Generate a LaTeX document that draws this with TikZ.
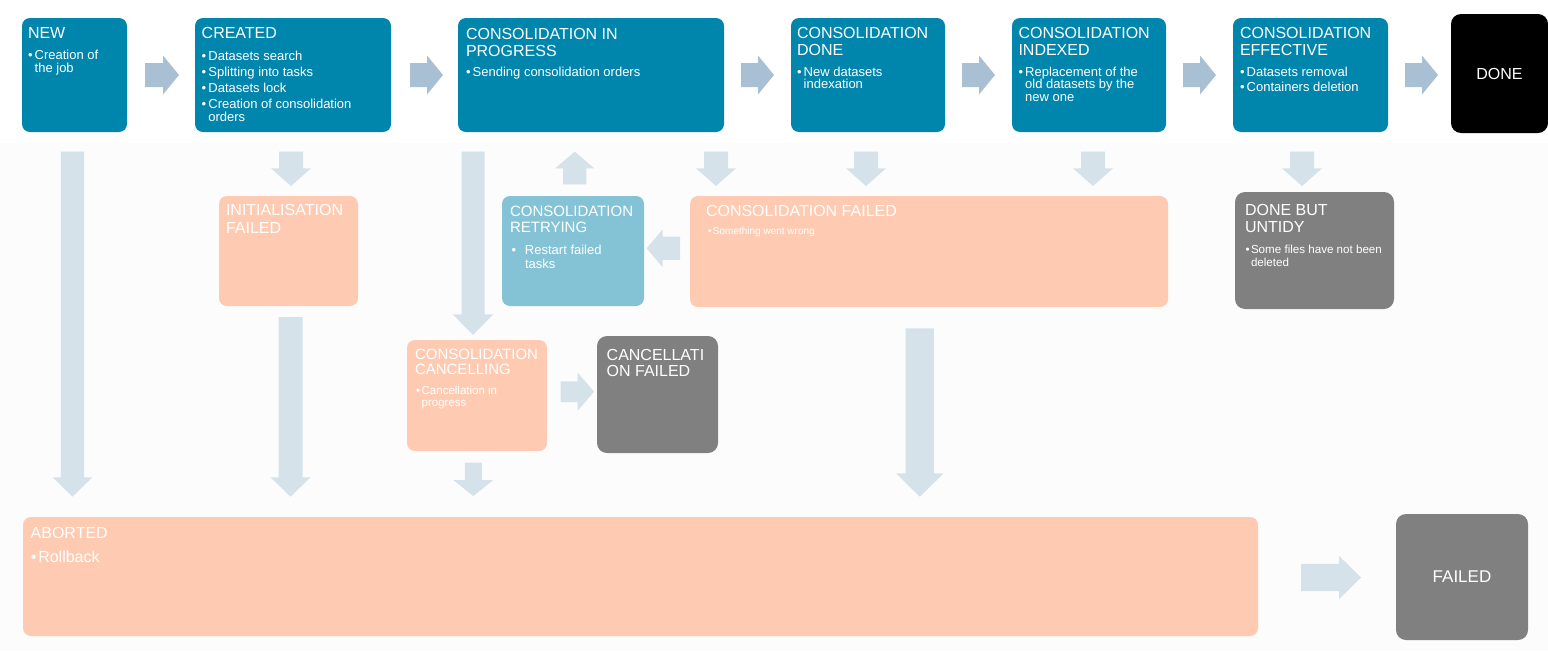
\documentclass[tikz,border=0pt]{standalone}
\usepackage{fontspec}
\setmainfont{Liberation Sans}
\usetikzlibrary{calc}
\definecolor{cblue}{HTML}{0086AD}
\definecolor{csalmon}{HTML}{FECBB2}
\definecolor{clblue}{HTML}{84C3D6}
\definecolor{cgray}{HTML}{808080}
\definecolor{carrowd}{HTML}{A9BFD3}
\definecolor{carrowl}{HTML}{D5E2EA}
\definecolor{cbg}{HTML}{FCFCFC}
% box content: width, height, left pad, first baseline, content
\newcommand\bx[5]{\begin{minipage}[t][#2pt][t]{#1pt}\leftskip=#3pt\rightskip=0pt plus 1fil\parfillskip=0pt plus 1fil\leavevmode\rule{0pt}{#4pt}\ignorespaces#5\end{minipage}}
% title: size, skip, text
\newcommand\ttl[3]{{\fontsize{#1pt}{#2pt}\selectfont#3\par}}
% bullet: size, skip, bullet offset, hang, text
\newcommand\bul[5]{{\fontsize{#1pt}{#2pt}\selectfont\hangindent=#4pt\hangafter=1\noindent\makebox[#4pt][l]{\hspace{#3pt}\textbullet}#5\par}}
\tikzset{
  stbox/.style={anchor=north west, inner sep=0pt, outer sep=0pt, text=white, rounded corners=8pt},
  bluebox/.style={stbox, fill=cblue},
  salbox/.style={stbox, fill=csalmon},
  lbbox/.style={stbox, fill=clblue},
  graybox/.style={stbox, fill=cgray, rounded corners=10pt},
  blkbox/.style={stbox, fill=black, rounded corners=10pt},
  rblk/.style n args={3}{to path={let \p1=(\tikztostart), \p2=(\tikztotarget) in
    (\x1,\y1+#1/2) -- (\x2-#3,\y1+#1/2) -- (\x2-#3,\y1+#2/2) -- (\x2,\y1) -- (\x2-#3,\y1-#2/2) -- (\x2-#3,\y1-#1/2) -- (\x1,\y1-#1/2) -- cycle}},
  lblk/.style n args={3}{to path={let \p1=(\tikztostart), \p2=(\tikztotarget) in
    (\x1,\y1+#1/2) -- (\x2+#3,\y1+#1/2) -- (\x2+#3,\y1+#2/2) -- (\x2,\y1) -- (\x2+#3,\y1-#2/2) -- (\x2+#3,\y1-#1/2) -- (\x1,\y1-#1/2) -- cycle}},
  dblk/.style n args={3}{to path={let \p1=(\tikztostart), \p2=(\tikztotarget) in
    (\x1-#1/2,\y1) -- (\x1-#1/2,\y2+#3) -- (\x1-#2/2,\y2+#3) -- (\x1,\y2) -- (\x1+#2/2,\y2+#3) -- (\x1+#1/2,\y2+#3) -- (\x1+#1/2,\y1) -- cycle}},
  ublk/.style n args={3}{to path={let \p1=(\tikztostart), \p2=(\tikztotarget) in
    (\x1-#1/2,\y1) -- (\x1-#1/2,\y2-#3) -- (\x1-#2/2,\y2-#3) -- (\x1,\y2) -- (\x1+#2/2,\y2-#3) -- (\x1+#1/2,\y2-#3) -- (\x1+#1/2,\y1) -- cycle}},
  darr/.style={fill=carrowd},
  larr/.style={fill=carrowl}
}
\begin{document}
\begin{tikzpicture}[x=1pt,y=-1pt]
\useasboundingbox (0,0) rectangle (1548,651);
\fill[white] (0,0) rectangle (1548,651);
\fill[cbg] (0,143) rectangle (1548,651);

% ---- top row
\node[bluebox] (new) at (22,18) {\bx{105}{114}{6}{20.7}{\ttl{16}{16.7}{NEW}\vspace{8.5pt}\bul{13}{12.7}{0}{6.7}{Creation of\\the job}}};
\node[bluebox] (created) at (195,18) {\bx{196}{114}{6.7}{20.7}{\ttl{16}{16.7}{CREATED}\vspace{9pt}%
  \bul{13}{12.7}{0}{6.7}{Datasets search}\vspace{3.3pt}%
  \bul{13}{12.7}{0}{6.7}{Splitting into tasks}\vspace{3.3pt}%
  \bul{13}{12.7}{0}{6.7}{Datasets lock}\vspace{3.3pt}%
  \bul{13}{12.7}{0}{6.7}{Creation of consolidation\\orders}}};
\node[bluebox] (cip) at (458,18) {\bx{266}{114}{8}{21.3}{\ttl{16}{16.7}{CONSOLIDATION IN\\PROGRESS}\vspace{7.3pt}\bul{13}{12.7}{0}{6.7}{Sending consolidation orders}}};
\node[bluebox] (cdone) at (791,18) {\bx{154}{114}{6}{20.7}{\ttl{16}{16.7}{CONSOLIDATION\\DONE}\vspace{8pt}\bul{13}{12.7}{0}{6.7}{New datasets\\indexation}}};
\node[bluebox] (cidx) at (1012,18) {\bx{154}{114}{6.5}{20.7}{\ttl{16}{16.7}{CONSOLIDATION\\INDEXED}\vspace{8pt}\bul{13}{12.7}{0}{6.7}{Replacement of the\\old datasets by the\\new one}}};
\node[bluebox] (ceff) at (1233,18) {\bx{155}{114}{7}{20.7}{\ttl{16}{16.7}{CONSOLIDATION\\EFFECTIVE}\vspace{8pt}%
  \bul{13}{12.7}{0}{6.7}{Datasets removal}\vspace{3pt}%
  \bul{13}{12.7}{0}{6.7}{Containers deletion}}};
\node[blkbox, minimum width=97pt, minimum height=119pt, font=\fontsize{16pt}{18pt}\selectfont] (done) at (1451,14) {DONE};

% ---- second row
\node[salbox] (initf) at (219,196) {\bx{139}{110}{7}{19.8}{\ttl{16}{17.3}{INITIALISATION\\FAILED}}};
\node[lbbox] (retry) at (502,196) {\bx{142}{110}{8}{20.7}{\ttl{15}{16}{CONSOLIDATION\\RETRYING}\vspace{7.6pt}\bul{13}{14}{1.7}{15}{Restart failed\\tasks}}};
\node[salbox] (cfail) at (690,196) {\bx{478}{111}{16}{20}{\ttl{16}{17}{CONSOLIDATION FAILED}\vspace{7.3pt}\bul{10}{11}{2}{7}{Something went wrong}}};
\node[graybox] (untidy) at (1235,192) {\bx{159}{117}{10}{23.3}{\ttl{16}{17.3}{DONE BUT\\UNTIDY}\vspace{8.6pt}\bul{11.6}{12.4}{0.6}{6}{Some files have not been\\deleted}}};

% ---- third row
\node[salbox] (cancel) at (407,340) {\bx{140}{111}{8}{19.3}{\ttl{15}{15.5}{CONSOLIDATION\\CANCELLING}\vspace{8pt}\bul{11.5}{12}{1}{6.7}{Cancellation in\\progress}}};
\node[graybox] (cancf) at (597,336) {\bx{121}{117}{9.7}{24}{\ttl{16}{16.7}{CANCELLATI\\ON FAILED}}};

% ---- bottom row
\node[salbox] (aborted) at (23,517) {\bx{1235}{119}{7.7}{21.4}{\ttl{16}{17}{ABORTED}\vspace{6.6pt}\bul{16}{17}{0.3}{7.6}{Rollback}}};
\node[graybox, minimum width=132pt, minimum height=126pt, font=\fontsize{17pt}{19pt}\selectfont] (failed) at (1396,514) {FAILED};

% ---- top row arrows
\path[darr] ([xshift=18pt]new.east) to[rblk={24pt}{39pt}{16pt}] ([xshift=-16pt]created.west);
\path[darr] ([xshift=19pt]created.east) to[rblk={24pt}{39pt}{16pt}] ([xshift=-15pt]cip.west);
\path[darr] ([xshift=17pt]cip.east) to[rblk={24pt}{39pt}{16pt}] ([xshift=-17pt]cdone.west);
\path[darr] ([xshift=17pt]cdone.east) to[rblk={24pt}{39pt}{16pt}] ([xshift=-17pt]cidx.west);
\path[darr] ([xshift=17pt]cidx.east) to[rblk={24pt}{39pt}{16pt}] ([xshift=-17pt]ceff.west);
\path[darr] ([xshift=17pt]ceff.east) to[rblk={24pt}{39pt}{16pt}] ([xshift=-13pt]done.west);

% ---- lower arrows
\path[larr] ([xshift=-2pt,yshift=-19.7pt]new.south) to[dblk={23.3pt}{39.6pt}{19.4pt}] ([yshift=20.3pt]aborted.north);
\path[larr] ([xshift=-2pt,yshift=-19.7pt]created.south) to[dblk={24pt}{40pt}{17.7pt}] ([yshift=10pt]initf.north);
\path[larr] ([xshift=2pt,yshift=-11pt]initf.south) to[dblk={24pt}{40pt}{19.4pt}] ([yshift=20.3pt]aborted.north);
\path[larr] ([xshift=-118pt,yshift=-19.7pt]cip.south) to[dblk={23pt}{40.6pt}{20.7pt}] ([yshift=5pt]cancel.north);
\path[larr] ([xshift=1.7pt,yshift=11.7pt]retry.north) to[ublk={23.4pt}{39pt}{16.6pt}] ([yshift=-19.7pt]cip.south);
\path[larr] ([xshift=125pt,yshift=-19.7pt]cip.south) to[dblk={24pt}{40pt}{17.7pt}] ([yshift=10pt]cfail.north);
\path[larr] ([xshift=-2pt,yshift=-19.7pt]cdone.south) to[dblk={24pt}{40pt}{17.7pt}] ([yshift=10pt]cfail.north);
\path[larr] ([xshift=4pt,yshift=-19.7pt]cidx.south) to[dblk={24pt}{40pt}{17.7pt}] ([yshift=10pt]cfail.north);
\path[larr] ([xshift=-8.5pt,yshift=-19.7pt]ceff.south) to[dblk={24pt}{40pt}{17.7pt}] ([yshift=6pt]untidy.north);
\path[larr] ([xshift=-10pt,yshift=3.2pt]cfail.west) to[lblk={23.3pt}{38pt}{16pt}] ([xshift=2.7pt]retry.east);
\path[larr] ([xshift=-9.2pt,yshift=-21.3pt]cfail.south) to[dblk={28.3pt}{47.3pt}{23.3pt}] ([yshift=20.3pt]aborted.north);
\path[larr] ([xshift=-3.7pt,yshift=-11.7pt]cancel.south) to[dblk={17pt}{40pt}{16pt}] ([yshift=21pt]aborted.north);
\path[larr] ([xshift=13.7pt,yshift=3.8pt]cancel.east) to[rblk={20.6pt}{38pt}{16.3pt}] ([xshift=-3pt]cancf.west);
\path[larr] ([xshift=43pt,yshift=-1pt]aborted.east) to[rblk={27.4pt}{43.3pt}{22pt}] ([xshift=-35pt]failed.west);
\end{tikzpicture}
\end{document}
